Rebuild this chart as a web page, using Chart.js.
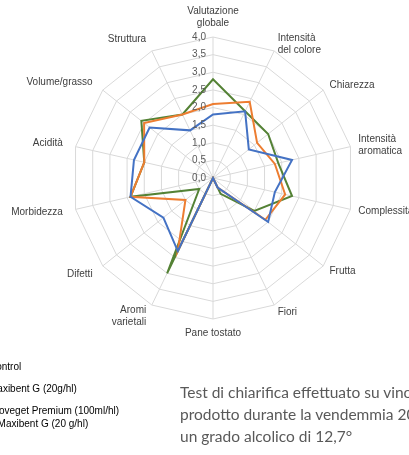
<!DOCTYPE html>
<html>
<head>
<meta charset="utf-8">
<script src="https://cdn.jsdelivr.net/npm/chart.js@4"></script>
<style>
  html, body { margin: 0; padding: 0; background: #fff; overflow: hidden; }
  #wrap { position: relative; width: 409px; height: 455px; overflow: hidden; }
  #chart { position: absolute; left: 0; top: 0; }
  #legend { position: absolute; left: -34px; top: 360px; font: 10px "Liberation Sans", Arial, sans-serif; color: #000; }
  .item { display: flex; align-items: flex-start; margin-bottom: 9px; line-height: 13px; }
  .mark { width: 16px; height: 2px; margin: 5px 7px 0 0; }
  #note { position: absolute; left: 180px; top: 381px; font: 15.5px Lato, sans-serif; color: #595959; line-height: 22px; white-space: nowrap; }
</style>
</head>
<body>
<div id="wrap">
  <canvas id="chart" width="409" height="455"></canvas>
  <div id="legend"></div>
  <div id="note">Test di chiarifica effettuato su vino<br>prodotto durante la vendemmia 20<br>un grado alcolico di 12,7°</div>
</div>
<script>
const axisLabels = [
    ['Valutazione', 'globale'], ['Intensità', 'del colore'], 'Chiarezza', ['Intensità', 'aromatica'],
    'Complessità', 'Frutta', 'Fiori', 'Pane tostato', ['Aromi', 'varietali'], 'Difetti',
    'Morbidezza', 'Acidità', 'Volume/grasso', 'Struttura'
];
const seriesNames = [
    ['Control'],
    ['Maxibent G (20g/hl)'],
    ['Proveget Premium (100ml/hl)', '+ Maxibent G (20 g/hl)']
];
const controlValues  = [1.8, 2.1, 1.3, 2.3, 1.8, 2.0, 0.3, 0, 2.3, 1.8, 2.4, 2.3, 2.3, 1.5];
const maxibentValues = [2.1, 2.4, 1.6, 1.8, 2.1, 1.9, 0.3, 0, 2.3, 1.0, 2.4, 2.0, 2.5, 2.0];
const provegetValues = [2.8, 2.1, 2.0, 1.9, 2.3, 1.5, 0.5, 0, 3.0, 0.5, 2.4, 2.0, 2.6, 2.0];
const tickValues = [0, 0.5, 1, 1.5, 2, 2.5, 3, 3.5, 4];

const colors = ['#4472C4', '#ED7D31', '#548235'];
const labelFont = '10px "Liberation Sans", Arial, sans-serif';

// tick numbers to the left of the vertical spoke, and the axis names outside the web
const radarText = {
    id: 'radarText',
    afterDraw(chart) {
        const scale = chart.scales.r;
        const ctx = chart.ctx;
        ctx.save();
        ctx.font = labelFont;
        ctx.fillStyle = '#595959';
        ctx.textAlign = 'right';
        ctx.textBaseline = 'middle';
        tickValues.forEach(v => {
            const y = scale.yCenter - scale.getDistanceFromCenterForValue(v);
            ctx.fillText(v.toFixed(1).replace('.', ','), scale.xCenter - 7, y);
        });

        ctx.fillStyle = '#404040';
        const lineH = 12;
        axisLabels.forEach((label, i) => {
            const lines = Array.isArray(label) ? label : [label];
            const angle = scale.getIndexAngle(i);
            const s = Math.sin(angle);
            const pad = s < -0.05 ? 13 : 8;
            const p = scale.getPointPosition(i, scale.drawingArea + pad);
            const h = lines.length * lineH;
            let top;
            if (Math.abs(s) < 0.05) {
                ctx.textAlign = 'center';
                top = Math.cos(angle) > 0 ? p.y - h : p.y;
            } else {
                ctx.textAlign = s > 0 ? 'left' : 'right';
                top = p.y - h / 2;
            }
            lines.forEach((t, k) => ctx.fillText(t, p.x, top + lineH * (k + 0.5)));
        });
        ctx.restore();
    }
};

const datasets = [controlValues, maxibentValues, provegetValues].map((data, i) => ({
    label: seriesNames[i].join(' '),
    data: data,
    borderColor: colors[i],
    backgroundColor: colors[i],
    borderWidth: 2,
    fill: false,
    pointRadius: 0,
    tension: 0
}));

new Chart(document.getElementById('chart'), {
    type: 'radar',
    data: { labels: axisLabels, datasets: datasets },
    options: {
        responsive: false,
        animation: false,
        layout: { padding: { left: 72, top: 37, right: 55, bottom: 136 } },
        plugins: { legend: { display: false }, tooltip: { enabled: false } },
        scales: {
            r: {
                min: 0,
                max: 4,
                ticks: { stepSize: 0.5, display: false },
                grid: { color: '#d9d9d9', lineWidth: 1 },
                angleLines: { color: '#d9d9d9', lineWidth: 1 },
                pointLabels: { display: false }
            }
        }
    },
    plugins: [radarText]
});

const legend = document.getElementById('legend');
seriesNames.forEach((name, i) => {
    const item = document.createElement('div');
    item.className = 'item';
    item.innerHTML = `<div class="mark" style="background:${colors[i]}"></div><div>${name.join('<br>')}</div>`;
    legend.appendChild(item);
});
</script>
</body>
</html>
